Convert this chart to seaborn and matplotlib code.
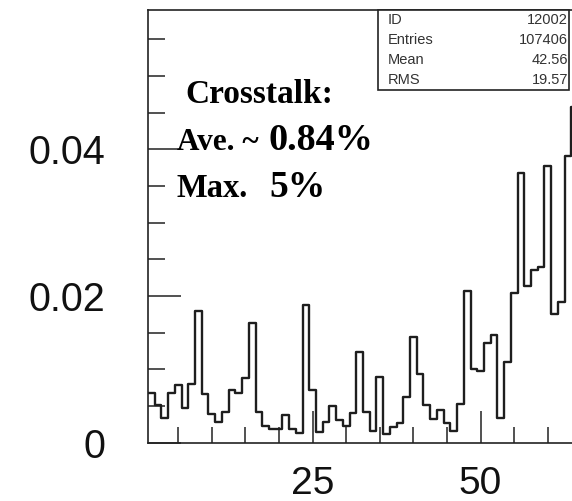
import numpy as np
import pandas as pd
import matplotlib
matplotlib.use("Agg")
import matplotlib.pyplot as plt
from matplotlib.ticker import MultipleLocator, FuncFormatter
from matplotlib.patches import Rectangle
import seaborn as sns

# ---- data ----
channels = list(range(1, 65))
crosstalk = [
    0.0067, 0.0051, 0.0034, 0.0068, 0.0078, 0.0047, 0.0080, 0.0180,
    0.0066, 0.0039, 0.0028, 0.0041, 0.0072, 0.0068, 0.0088, 0.0163,
    0.0042, 0.0022, 0.0019, 0.0019, 0.0038, 0.0018, 0.0013, 0.0188,
    0.0072, 0.0015, 0.0028, 0.0050, 0.0031, 0.0022, 0.0040, 0.0124,
    0.0042, 0.0016, 0.0089, 0.0011, 0.0021, 0.0026, 0.0062, 0.0144,
    0.0093, 0.0051, 0.0032, 0.0045, 0.0026, 0.0016, 0.0053, 0.0206,
    0.0100, 0.0097, 0.0136, 0.0147, 0.0034, 0.0110, 0.0204, 0.0367,
    0.0214, 0.0235, 0.0240, 0.0377, 0.0175, 0.0191, 0.0391, 0.0458,
]
x_tick_labels = ["25", "50"]
y_tick_labels = ["0", "0.02", "0.04"]
stats_names = ["ID", "Entries", "Mean", "RMS"]
stats_values = ["12002", "107406", "42.56", "19.57"]

df = pd.DataFrame({"channel": channels, "crosstalk": crosstalk})

sns.set_style("white")
plt.rcParams["font.family"] = ["Liberation Sans", "DejaVu Sans"]

W, H = 572, 501
fig = plt.figure(figsize=(W / 100, H / 100), dpi=100)
ax = fig.add_axes([148 / W, (H - 442.5) / H, 430 / W, 432.5 / H])

sns.histplot(data=df, x="channel", weights="crosstalk", binwidth=1,
             binrange=(0.5, 64.5), element="step", fill=False,
             color="#1e1e1e", linewidth=1.7, ax=ax)

ax.set_xlim(0.5, 64.5)
ax.set_ylim(0, 0.059)
ax.set_xlabel("")
ax.set_ylabel("")

for side in ["left", "bottom", "top", "right"]:
    ax.spines[side].set_color("#222222")
    ax.spines[side].set_linewidth(1.2)

ax.xaxis.set_major_locator(MultipleLocator(25))
ax.xaxis.set_minor_locator(MultipleLocator(5))
ax.yaxis.set_major_locator(MultipleLocator(0.02))
ax.yaxis.set_minor_locator(MultipleLocator(0.005))
ax.xaxis.set_major_formatter(FuncFormatter(
    lambda v, p: x_tick_labels[int(round(v / 25)) - 1] if round(v) in (25, 50) else ""))
ax.yaxis.set_major_formatter(FuncFormatter(
    lambda v, p: y_tick_labels[int(round(v / 0.02))] if 0 <= round(v / 0.02) < 3 else ""))

ax.tick_params(axis="x", which="major", direction="in", length=23, width=1.1,
               color="#222222", labelsize=28, pad=17, labelcolor="#111111",
               bottom=True, top=False)
ax.tick_params(axis="x", which="minor", direction="in", length=11.5, width=1.1,
               color="#222222", bottom=True, top=False)
ax.tick_params(axis="y", which="major", direction="in", length=24, width=1.1,
               color="#222222", labelsize=28.5, pad=31, labelcolor="#111111",
               left=True, right=False)
ax.tick_params(axis="y", which="minor", direction="in", length=12.5, width=1.1,
               color="#222222", left=True, right=False)

# ---- stats box ----
bx0, bx1, by0, by1 = 378 / W, 569 / W, 1 - 90 / H, 1 - 10 / H
fig.add_artist(Rectangle((bx0, by0), bx1 - bx0, by1 - by0, transform=fig.transFigure,
                         facecolor="white", edgecolor="#222222", linewidth=1.2, zorder=5))
row_y = [20, 40, 60, 80]
for name, val, yy in zip(stats_names, stats_values, row_y):
    fig.text(388 / W, 1 - yy / H, name, ha="left", va="center", fontsize=10.5,
             color="#333333", zorder=6)
    fig.text(568 / W, 1 - yy / H, val, ha="right", va="center", fontsize=10.5,
             color="#333333", zorder=6)

# ---- annotation ----
serif = ["Liberation Serif", "DejaVu Serif"]
fig.text(185 / W, 1 - 103 / H, "Crosstalk:", family=serif, weight="bold",
         fontsize=24, ha="left", va="baseline", color="black")
fig.text(176.7 / W, 1 - 150 / H, "Ave. ~", family=serif, weight="bold",
         fontsize=22.5, ha="left", va="baseline", color="black")
fig.text(268 / W, 1 - 150 / H, "0.84%", family=serif, weight="bold",
         fontsize=27.5, ha="left", va="baseline", color="black")
fig.text(176.7 / W, 1 - 197 / H, "Max.", family=serif, weight="bold",
         fontsize=23.5, ha="left", va="baseline", color="black")
fig.text(269 / W, 1 - 197 / H, "5%", family=serif, weight="bold",
         fontsize=27, ha="left", va="baseline", color="black")

fig.savefig("out.png", dpi=100, facecolor="white")
